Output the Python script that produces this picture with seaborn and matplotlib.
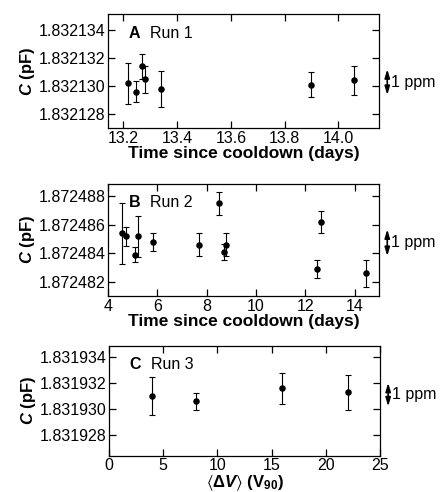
import numpy as np
import seaborn as sns
import matplotlib.pyplot as plt
from matplotlib.ticker import FormatStrFormatter

# Run 1: time since cooldown (days), capacitance (pF), error (1e-6 pF)
run1_time = [13.217, 13.248, 13.268, 13.279, 13.339, 13.897, 14.058]
run1_cap = [1.8321302, 1.8321296, 1.8321314, 1.8321305, 1.8321298, 1.8321301, 1.8321304]
run1_err = [1.47, 0.76, 0.88, 0.96, 1.29, 0.88, 1.02]

# Run 2
run2_time = [4.58, 4.72, 5.11, 5.20, 5.81, 7.68, 8.49, 8.69, 8.78, 12.46, 12.66, 14.46]
run2_cap = [1.8724854, 1.8724852, 1.8724839, 1.8724852, 1.8724848, 1.8724846,
            1.8724875, 1.8724841, 1.8724846, 1.8724829, 1.8724862, 1.8724826]
run2_err = [2.16, 0.67, 0.52, 1.45, 0.62, 0.81, 0.81, 0.56, 0.81, 0.64, 0.78, 0.93]

# Run 3: mean voltage (V90)
run3_dv = [4, 8, 16, 22]
run3_cap = [1.8319310, 1.8319306, 1.8319316, 1.8319313]
run3_err = [1.49, 0.67, 1.21, 1.37]

# tick values
run1_xticks = [13.2, 13.4, 13.6, 13.8, 14.0]
run1_yticks = [1.832128, 1.832130, 1.832132, 1.832134]
run2_xticks = [4, 6, 8, 10, 12, 14]
run2_yticks = [1.872482, 1.872484, 1.872486, 1.872488]
run3_xticks = [0, 5, 10, 15, 20, 25]
run3_yticks = [1.831928, 1.831930, 1.831932, 1.831934]

sns.set_style("ticks")
plt.rcParams['font.family'] = ['Liberation Sans', 'DejaVu Sans']
plt.rcParams['text.color'] = 'black'
plt.rcParams['axes.labelcolor'] = 'black'
plt.rcParams['xtick.color'] = 'black'
plt.rcParams['ytick.color'] = 'black'
plt.rcParams['mathtext.fontset'] = 'custom'
plt.rcParams['mathtext.rm'] = 'Liberation Sans:bold'
plt.rcParams['mathtext.it'] = 'Liberation Sans:italic:bold'
plt.rcParams['mathtext.bf'] = 'Liberation Sans:bold'
plt.rcParams['mathtext.fallback'] = 'stixsans'

FS = 11.5


def draw_panel(ax, x, y, err, letter, run, xticks, yticks, xlim, ylim, xlabel,
               xpad=0, xsize=FS + 1):
    '''
    Draws one panel: points with error bars, framed axes, and a 1 ppm arrow.
    '''
    # the error bars first, then the dots on top
    ax.errorbar(x, y, yerr=np.array(err) * 1e-6, fmt='none', ecolor='black',
                elinewidth=0.8, capsize=2.2, capthick=0.8)
    sns.scatterplot(x=x, y=y, ax=ax, color='black', s=22, edgecolor='black',
                    linewidth=0, zorder=3)

    ax.set_xlim(xlim)
    ax.set_ylim(ylim)
    ax.set_xticks(xticks)
    ax.set_yticks(yticks)
    ax.yaxis.set_major_formatter(FormatStrFormatter('%.6f'))
    if isinstance(xticks[0], float):
        ax.xaxis.set_major_formatter(FormatStrFormatter('%.1f'))

    # inward ticks on all four sides
    ax.tick_params(direction='in', length=5, width=0.9, top=True, right=True,
                   labelsize=FS, pad=2)
    for side in ax.spines.values():
        side.set_linewidth(0.9)
        side.set_color('black')

    ax.set_xlabel(xlabel, fontsize=xsize, fontweight='bold', labelpad=xpad)
    ax.set_ylabel(r'$C$ (pF)', fontsize=FS + 0.5, fontweight='bold', labelpad=1)

    # panel letter and run name
    ax.text(0.075, 0.83, letter, transform=ax.transAxes, fontsize=FS,
            fontweight='bold', va='center')
    ax.text(0.155, 0.83, run, transform=ax.transAxes, fontsize=FS, va='center')

    # 1 ppm scale arrow outside the right spine
    mid = np.mean(y)
    half = mid * 1e-6 / 2
    trans = ax.get_yaxis_transform()
    ax.annotate('', xy=(1.03, mid + half), xytext=(1.03, mid - half),
                xycoords=trans, textcoords=trans, annotation_clip=False,
                arrowprops=dict(arrowstyle='<|-|>,head_length=0.5,head_width=0.15',
                                color='black', lw=1.2, shrinkA=0, shrinkB=0))
    ax.text(1.045, mid, '1 ppm', transform=trans, fontsize=FS, va='center',
            ha='left', clip_on=False)


fig = plt.figure(figsize=(4.45, 4.92), dpi=100)
ax1 = fig.add_axes([0.243, 0.739, 0.609, 0.232])
ax2 = fig.add_axes([0.243, 0.398, 0.609, 0.229])
ax3 = fig.add_axes([0.245, 0.074, 0.609, 0.223])

draw_panel(ax1, run1_time, run1_cap, run1_err, 'A', 'Run 1', run1_xticks, run1_yticks,
           (13.143, 14.152), (1.8321270, 1.8321351), 'Time since cooldown (days)')
draw_panel(ax2, run2_time, run2_cap, run2_err, 'B', 'Run 2', run2_xticks, run2_yticks,
           (4, 15), (1.8724810, 1.8724889), 'Time since cooldown (days)')
draw_panel(ax3, run3_dv, run3_cap, run3_err, 'C', 'Run 3', run3_xticks, run3_yticks,
           (0, 25), (1.8319264, 1.8319349), r'$\langle\Delta V\rangle$ (V$_{90}$)',
           xpad=0, xsize=FS + 0.5)

fig.savefig('out.png', dpi=100)
